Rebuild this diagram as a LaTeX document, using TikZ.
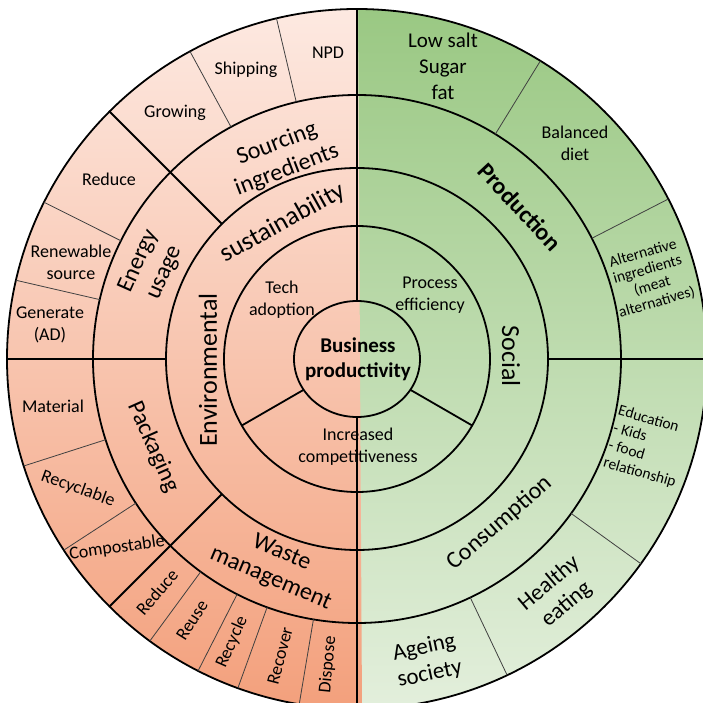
\documentclass[tikz,border=0pt]{standalone}
\usepackage{fontspec}
\setmainfont{Carlito}
\usepackage{xcolor}
\usepackage{tikz}
\definecolor{envtop}{RGB}{253,233,225}
\definecolor{envmid}{RGB}{246,185,158}
\definecolor{envbot}{RGB}{243,160,124}
\definecolor{soctop}{RGB}{154,200,131}
\definecolor{socmid}{RGB}{166,206,146}
\definecolor{socbot}{RGB}{227,239,220}

\begin{document}
\begin{tikzpicture}[
    x=1pt, y=1pt,
    ring/.style={draw=black, line width=1.8pt},
    subline/.style={draw=black!75, line width=0.8pt},
    lbl/.style={align=center, inner sep=0pt, font=\fontsize{18}{22}\selectfont},
    seg/.style={align=center, inner sep=0pt, font=\fontsize{24}{28}\selectfont},
    pillar/.style={align=center, inner sep=0pt, font=\fontsize{26}{30}\selectfont},
    note/.style={align=center, inner sep=0pt, font=\fontsize{15.5}{17}\selectfont}
]
\useasboundingbox (-357,-344) rectangle (346,359);
\clip (-357,-344) rectangle (346,359);

\shade[top color=soctop, middle color=socmid, bottom color=socbot]
    (0,350) arc[start angle=90, end angle=-90, radius=350] -- cycle;
\shade[top color=envtop, middle color=envmid, bottom color=envbot]
    (1,350) -- (0,350) arc[start angle=90, end angle=270, radius=350] -- (5,-350) -- cycle;

\foreach \r in {133,191,264,350}
    \draw[ring] (0,0) circle[radius=\r];
\draw[ring] (0,0) circle[x radius=63, y radius=58];
\draw[ring] (0,58) -- (0,350);
\draw[ring] (0,-58) -- (0,-350);
\draw[ring] (210:62) -- (210:133);
\draw[ring] (330:62) -- (330:133);
\foreach \a in {0,135,180,225}
    \draw[ring] (\a:191) -- (\a:350);
\foreach \a in {103.3,118.5,153.4,167,197.8,213.1,233.7,243,250.1,260.5,27.2,58.4,295.4,324.2}
    \draw[subline] (\a:264) -- (\a:350);

\node[font=\fontsize{21}{25}\selectfont\bfseries, align=center] (core) at (1,0) {Business\\productivity};
\node[lbl] (tech) at (-75,59) {Tech\\adoption};
\node[lbl] (process) at (73,64) {Process\\efficiency};
\node[lbl] (compete) at (1,-88) {Increased\\competitiveness};

\node[pillar, rotate=90] (env) at (-149,-11) {Environmental};
\node[pillar, rotate=29] (sustain) at (-74,136) {sustainability};
\node[pillar, rotate=-90] (social) at (154,3) {Social};

\node[seg, rotate=21] (sourcing) at (-75,202) {Sourcing\\ingredients};
\node[seg, rotate=66] (energy) at (-205,92) {Energy\\usage};
\node[seg, rotate=-66] (packaging) at (-204,-88) {Packaging};
\node[seg, rotate=-23] (waste) at (-81,-207) {Waste\\management};
\node[seg, rotate=-47, font=\fontsize{24}{28}\selectfont\bfseries] (production) at (163,152) {Production};
\node[seg, rotate=41] (consumption) at (143,-164) {Consumption};

\node[lbl] (growing) at (-182,246) {Growing};
\node[lbl] (shipping) at (-111,289) {Shipping};
\node[lbl] (npd) at (-29,306) {NPD};
\node[lbl] (reduce1) at (-248,180) {Reduce};
\node[lbl] (renewable) at (-286,97) {Renewable\\source};
\node[lbl] (generate) at (-307,34) {Generate\\(AD)};
\node[lbl] (material) at (-304,-47) {Material};
\node[lbl, rotate=-20] (recyclable) at (-279,-130) {Recyclable};
\node[lbl, rotate=8] (compostable) at (-240,-189) {Compostable};
\node[lbl, rotate=49.4] (reduce2) at (-200,-233) {Reduce};
\node[lbl, rotate=57.7] (reuse) at (-165,-261) {Reuse};
\node[lbl, rotate=66.2] (recycle) at (-125,-283) {Recycle};
\node[lbl, rotate=75.5] (recover) at (-77,-297) {Recover};
\node[lbl, rotate=84.6] (dispose) at (-29,-306) {Dispose};

\node[align=center, inner sep=0pt, font=\fontsize{21}{26}\selectfont] (lowsalt) at (86,293) {Low salt\\Sugar\\fat};
\node[lbl] (balanced) at (218,216) {Balanced\\diet};
\node[note, rotate=16] (alternative) at (293,81) {Alternative\\ingredients\\(meat\\alternatives)};
\node[note, rotate=-16, align=left, font=\fontsize{15.5}{18}\selectfont] (education) at (290,-88) {Education\\- Kids\\- food\\relationship};
\node[seg, rotate=40, font=\fontsize{23}{27}\selectfont] (healthy) at (201,-235) {Healthy\\eating};
\node[seg, rotate=12, font=\fontsize{23}{27}\selectfont] (ageing) at (70,-302) {Ageing\\society};

\end{tikzpicture}
\end{document}
